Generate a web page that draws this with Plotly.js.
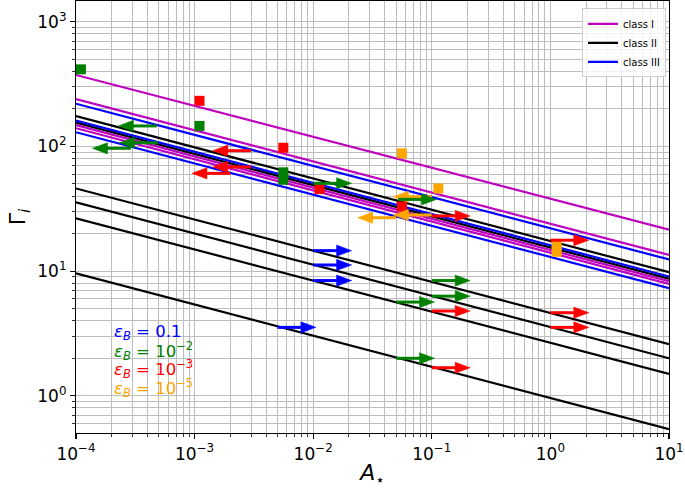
<!DOCTYPE html>
<html><head><meta charset="utf-8">
<script src="https://cdn.plot.ly/plotly-3.0.1.min.js"></script>
<style>html,body{margin:0;padding:0;background:#fff}</style>
</head><body><div id="chart" style="width:685px;height:489px"></div>
<script>
// ---- data ----
// power-law lines: Gamma at A=1e-4 (left end) and at A=10 (right end)
const lineEndsX = [1e-4, 10];
const classI_left = [374, 240, 148, 140];
const classI_right = [21.5, 13.5, 8.3, 7.9];
const classII_left = [175, 155, 46, 35.6, 26.5, 9.6];
const classII_right = [9.8, 8.7, 2.6, 2.0, 1.5, 0.54];
const classIII_left = [220, 161, 130];
const classIII_right = [12.4, 9.05, 7.3];

// square markers
const sqGreenX = [1.1e-4, 1.1e-3, 5.6e-3, 5.6e-3];
const sqGreenY = [415, 146, 62, 54];
const sqRedX = [1.1e-3, 5.6e-3, 0.0113, 0.056];
const sqRedY = [232, 97.6, 45.5, 33];
const sqOrangeX = [0.056, 0.1135, 1.13, 1.13];
const sqOrangeY = [88, 46, 16.3, 14.3];

// limit arrows: start A, Gamma, direction (+1 right, -1 left)
const arBlueX = [0.01, 0.01, 0.01, 0.005];
const arBlueY = [14.6, 11.2, 8.4, 3.54];
const arBlueD = [1, 1, 1, 1];
const arGreenX = [4.8e-4, 4.9e-4, 2.9e-4, 0.01, 0.052, 0.1, 0.1, 0.05, 0.05];
const arGreenY = [146, 107, 96.6, 50.6, 37.6, 8.4, 6.3, 5.65, 2.0];
const arGreenD = [-1, -1, -1, 1, 1, 1, 1, 1, 1];
const arRedX = [3e-3, 3e-3, 2e-3, 0.1, 1.0, 0.1, 0.1, 1.0, 1.0];
const arRedY = [92.4, 68.4, 60.8, 27.7, 17.7, 4.79, 1.68, 4.64, 3.54];
const arRedD = [-1, -1, -1, 1, 1, 1, 1, 1, 1];
const arOrangeX = [0.05, 0.1, 0.1];
const arOrangeY = [26.8, 28.2, 39.5];
const arOrangeD = [-1, -1, -1];

const xTickVals = [1e-4, 1e-3, 1e-2, 1e-1, 1, 10];
const xTickText = ['10<sup>−4</sup>','10<sup>−3</sup>','10<sup>−2</sup>','10<sup>−1</sup>','10<sup>0</sup>','10<sup>1</sup>'];
const yTickVals = [1, 10, 100, 1000];
const yTickText = ['10<sup>0</sup>','10<sup>1</sup>','10<sup>2</sup>','10<sup>3</sup>'];

const epsLabels = ['0.1', '10<sup>−2</sup>', '10<sup>−3</sup>', '10<sup>−5</sup>'];
const epsColors = ['#0000ff', '#008000', '#ff0000', '#ffa500'];

// ---- styling / construction ----
const MAG = '#bf00bf';
const FONT = 'DejaVu Sans, sans-serif';

function lineTrace(left, right, color, name) {
  const x = [], y = [];
  for (let i = 0; i < left.length; i++) {
    x.push(lineEndsX[0], lineEndsX[1], null);
    y.push(left[i], right[i], null);
  }
  return {x, y, mode: 'lines', name, line: {color, width: 2.2}, hoverinfo: 'skip'};
}

function sqTrace(xs, ys, color) {
  return {x: xs, y: ys, mode: 'markers', showlegend: false, hoverinfo: 'skip',
    marker: {symbol: 'square', size: 10, color, line: {width: 0}}};
}

const AR_LEN = 0.324, HEAD_LEN = 0.127, HEAD_HALF = 0.045; // in decades
function arrowTraces(xs, ys, ds, color) {
  const sx = [], sy = [], hx = [], hy = [];
  for (let i = 0; i < xs.length; i++) {
    const d = ds[i];
    const tip = xs[i] * Math.pow(10, d * AR_LEN);
    const base = xs[i] * Math.pow(10, d * (AR_LEN - HEAD_LEN));
    const baseIn = xs[i] * Math.pow(10, d * (AR_LEN - HEAD_LEN + 0.02));
    sx.push(xs[i], baseIn, null); sy.push(ys[i], ys[i], null);
    const up = ys[i] * Math.pow(10, HEAD_HALF), dn = ys[i] / Math.pow(10, HEAD_HALF);
    hx.push(base, tip, base, base, null); hy.push(up, ys[i], dn, up, null);
  }
  return [
    {x: sx, y: sy, mode: 'lines', line: {color, width: 3}, showlegend: false, hoverinfo: 'skip'},
    {x: hx, y: hy, mode: 'lines', fill: 'toself', fillcolor: color, line: {color, width: 0.5},
     showlegend: false, hoverinfo: 'skip'}
  ];
}

const traces = [
  lineTrace(classI_left, classI_right, MAG, 'class I'),
  lineTrace(classII_left, classII_right, '#000000', 'class II'),
  lineTrace(classIII_left, classIII_right, '#0000ff', 'class III'),
  sqTrace(sqGreenX, sqGreenY, '#008000'),
  sqTrace(sqRedX, sqRedY, '#ff0000'),
  sqTrace(sqOrangeX, sqOrangeY, '#ffa500'),
  ...arrowTraces(arOrangeX, arOrangeY, arOrangeD, '#ffa500'),
  ...arrowTraces(arRedX, arRedY, arRedD, '#ff0000'),
  ...arrowTraces(arGreenX, arGreenY, arGreenD, '#008000'),
  ...arrowTraces(arBlueX, arBlueY, arBlueD, '#0000ff'),
];

function minorVals(k0, k1) {
  const v = [];
  for (let k = k0; k <= k1; k++) for (let m = 2; m <= 9; m++) v.push(m * Math.pow(10, k));
  return v;
}

const GRID = '#bdbdbd';
const axisCommon = {
  type: 'log', showline: true, linecolor: '#000', linewidth: 1.1, mirror: true,
  ticks: 'outside', ticklen: 5, tickwidth: 1.1, tickcolor: '#000',
  showgrid: true, gridcolor: GRID, gridwidth: 1, zeroline: false,
  tickfont: {family: FONT, size: 17, color: '#000'}, tickmode: 'array',
};

const annotations = epsLabels.map((t, i) => ({
  xref: 'paper', yref: 'paper', x: 0.0607, y: (433 - (332 + i * 18.6)) / 432,
  xanchor: 'left', yanchor: 'middle', showarrow: false,
  text: '<i>ε</i><sub><i>B</i></sub> = ' + t,
  font: {family: FONT, size: 16.5, color: epsColors[i]}
}));

const layout = {
  width: 685, height: 489,
  margin: {l: 76, r: 16, t: 1, b: 56},
  paper_bgcolor: '#fff', plot_bgcolor: '#fff',
  showlegend: true,
  legend: {x: 0.995, xanchor: 'right', y: 0.983, yanchor: 'top',
    bgcolor: 'rgba(255,255,255,0.8)', bordercolor: '#cccccc', borderwidth: 1,
    font: {family: FONT, size: 10, color: '#000'}, itemwidth: 30, tracegroupgap: 0},
  xaxis: Object.assign({}, axisCommon, {
    range: [-4, 1], tickvals: xTickVals, ticktext: xTickText,
    minor: {tickmode: 'array', tickvals: minorVals(-4, 0), ticks: 'outside', ticklen: 3,
      tickwidth: 0.8, tickcolor: '#000', showgrid: true, gridcolor: GRID, gridwidth: 1},
    title: {text: '<i>A</i><sub>⋆</sub>', font: {family: FONT, size: 22, color: '#000'}, standoff: 16}
  }),
  yaxis: Object.assign({}, axisCommon, {
    range: [-0.298, 3.166], tickvals: yTickVals, ticktext: yTickText,
    minor: {tickmode: 'array', tickvals: minorVals(-1, 3), ticks: 'outside', ticklen: 3,
      tickwidth: 0.8, tickcolor: '#000', showgrid: true, gridcolor: GRID, gridwidth: 1},
    title: {text: 'Γ<sub><i>i</i></sub>', font: {family: FONT, size: 22, color: '#000'}, standoff: 5}
  }),
  annotations
};

Plotly.newPlot('chart', traces, layout, {displayModeBar: false, staticPlot: true});
</script></body></html>
